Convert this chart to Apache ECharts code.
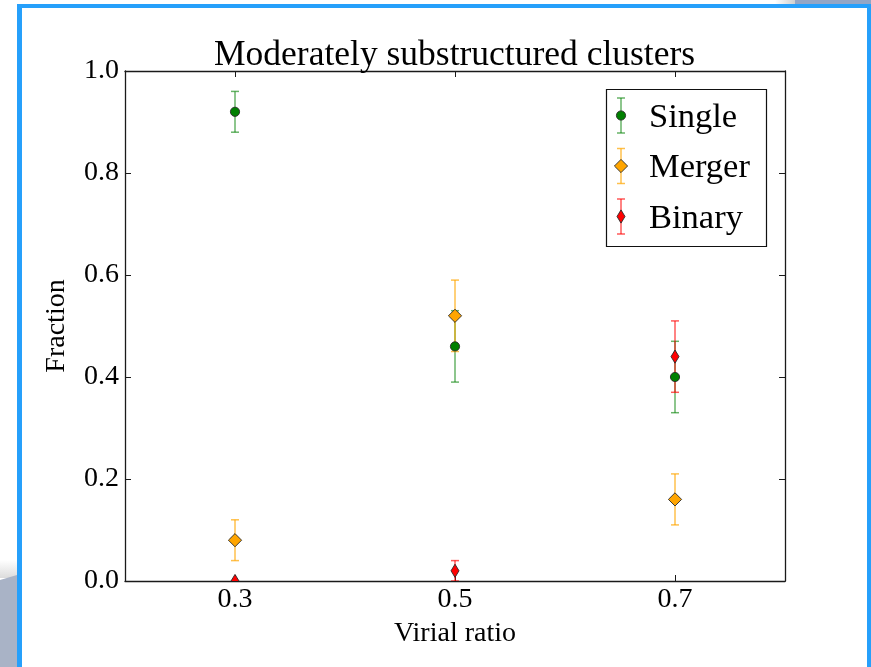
<!DOCTYPE html>
<html>
<head>
<meta charset="utf-8">
<script src="https://cdn.jsdelivr.net/npm/echarts@6/dist/echarts.min.js"></script>
<style>
html,body{margin:0;padding:0;background:#ffffff;}
#chart{width:871px;height:667px;}
</style>
</head>
<body>
<div id="chart"></div>
<script>
// ---- data ----
const titleText = 'Moderately substructured clusters';
const xName = 'Virial ratio';
const yName = 'Fraction';
const virialRatio = [0.3, 0.5, 0.7];
const xTickValues = [0.3, 0.5, 0.7];
const yTickValues = [0.0, 0.2, 0.4, 0.6, 0.8, 1.0];
const seriesNames = ['Single', 'Merger', 'Binary'];
const singleFrac = [0.92, 0.46, 0.40];
const singleErr  = [0.04, 0.07, 0.07];
const mergerFrac = [0.08, 0.52, 0.16];
const mergerErr  = [0.04, 0.07, 0.05];
const binaryFrac = [0.00, 0.02, 0.44];
const binaryErr  = [0.00, 0.02, 0.07];

// ---- styling ----
const FONT = 'Liberation Serif';
const markerColors = ['#008000', '#ffa500', '#ff0000'];
const barColors = ['rgba(0,128,0,0.6)', 'rgba(255,165,0,0.7)', 'rgba(255,0,0,0.65)'];
const markerKinds = ['circle', 'diamond', 'thindiamond'];
const EDGE = '#2a2a2a';

const fracs = [singleFrac, mergerFrac, binaryFrac];
const errs = [singleErr, mergerErr, binaryErr];

function markerShape(kind, cx, cy, color, z) {
  const style = { fill: color, stroke: EDGE, lineWidth: 0.9 };
  let el;
  if (kind === 'circle') {
    el = { type: 'circle', shape: { cx: cx, cy: cy, r: 4.6 }, style: style };
  } else {
    const hw = kind === 'diamond' ? 6.6 : 4.0;
    const hh = 6.6;
    el = { type: 'polygon', shape: { points: [[cx, cy - hh], [cx + hw, cy], [cx, cy + hh], [cx - hw, cy]] }, style: style };
  }
  if (z != null) el.z = z;
  return el;
}

function errBarShapes(xTop, yTop, xBot, yBot, color, z) {
  const cw = 4;
  const st = { stroke: color, lineWidth: 1.5 };
  const els = [
    { type: 'line', shape: { x1: xTop, y1: yTop, x2: xBot, y2: yBot }, style: st },
    { type: 'line', shape: { x1: xTop - cw, y1: yTop, x2: xTop + cw, y2: yTop }, style: st },
    { type: 'line', shape: { x1: xBot - cw, y1: yBot, x2: xBot + cw, y2: yBot }, style: st }
  ];
  if (z != null) els.forEach(function (e) { e.z = z; });
  return els;
}

const errSeries = seriesNames.map(function (name, si) {
  return {
    type: 'custom',
    name: name,
    clip: true,
    data: virialRatio.map(function (x, i) { return [x, fracs[si][i], errs[si][i]]; }),
    renderItem: function (params, api) {
      const x = api.value(0), y = api.value(1), e = api.value(2);
      if (!(e > 0)) return { type: 'group', children: [] };
      const t = api.coord([x, y + e]);
      const b = api.coord([x, y - e]);
      return { type: 'group', children: errBarShapes(t[0], t[1], b[0], b[1], barColors[si]) };
    }
  };
});

const markerSeries = seriesNames.map(function (name, si) {
  return {
    type: 'custom',
    name: name,
    clip: true,
    data: virialRatio.map(function (x, i) { return [x, fracs[si][i]]; }),
    renderItem: function (params, api) {
      const p = api.coord([api.value(0), api.value(1)]);
      return markerShape(markerKinds[si], p[0], p[1], markerColors[si]);
    }
  };
});

// ---- legend (drawn as graphic) ----
const LEG = { x: 606.5, y: 89.5, w: 160, h: 157, iconX: 621, textX: 649, firstY: 115.5, gap: 50.5, barHalf: 17.5, textDy: 2 };
const legendGraphics = [
  { type: 'rect', shape: { x: LEG.x, y: LEG.y, width: LEG.w, height: LEG.h }, style: { fill: '#ffffff', stroke: '#111', lineWidth: 1.2 }, z: 10 }
];
seriesNames.forEach(function (name, si) {
  const cy = LEG.firstY + si * LEG.gap;
  errBarShapes(LEG.iconX, cy - LEG.barHalf, LEG.iconX, cy + LEG.barHalf, barColors[si], 11).forEach(function (e) { legendGraphics.push(e); });
  legendGraphics.push(markerShape(markerKinds[si], LEG.iconX, cy, markerColors[si], 12));
  legendGraphics.push({ type: 'text', z: 12, x: LEG.textX, y: cy + LEG.textDy, style: { text: name, fontFamily: FONT, fontSize: 34.5, fill: '#000', align: 'left', verticalAlign: 'middle' } });
});

// ---- slide decoration (background frame) ----
const decoGraphics = [
  { type: 'polygon', shape: { points: [[0, 580], [17, 575], [17, 667], [0, 667]] }, style: { fill: '#a9b3c6' }, z: -5 },
  { type: 'rect', shape: { x: 0, y: 560, width: 17, height: 18 }, style: { fill: new echarts.graphic.LinearGradient(0, 0, 0, 1, [{ offset: 0, color: '#ffffff' }, { offset: 1, color: '#dcdcdc' }]) }, z: -6 },
  { type: 'rect', shape: { x: 795, y: 0, width: 76, height: 5 }, style: { fill: '#93a6c6' }, z: -5 },
  { type: 'rect', shape: { x: 775, y: 0, width: 20, height: 5 }, style: { fill: new echarts.graphic.LinearGradient(0, 0, 1, 0, [{ offset: 0, color: '#ffffff' }, { offset: 1, color: '#cfcfcf' }]) }, z: -5 },
  { type: 'rect', shape: { x: 17, y: 4, width: 5, height: 663 }, style: { fill: '#26a0fb' }, z: -4 },
  { type: 'rect', shape: { x: 17, y: 4, width: 854, height: 4 }, style: { fill: '#26a0fb' }, z: -4 },
  { type: 'rect', shape: { x: 867, y: 4, width: 4, height: 663 }, style: { fill: '#26a0fb' }, z: -4 }
];

const axisLineStyle = { color: '#1a1a1a', width: 1.3 };
const tickStyle = { color: '#1a1a1a', width: 1 };

const option = {
  animation: false,
  backgroundColor: 'transparent',
  title: {
    text: titleText,
    left: 214,
    top: 38,
    padding: 0,
    textStyle: { fontFamily: FONT, fontSize: 35.5, fontWeight: 'normal', color: '#000' }
  },
  grid: { left: 125, right: 86, top: 71, bottom: 86, outerBoundsMode: 'none', containLabel: false },
  xAxis: [
    {
      type: 'value', position: 'bottom', min: 0.2, max: 0.8,
      name: xName, nameLocation: 'middle', nameGap: 39,
      nameTextStyle: { fontFamily: FONT, fontSize: 28, color: '#000' },
      axisLine: { show: true, onZero: false, lineStyle: axisLineStyle },
      axisTick: { show: true, inside: true, length: 6, customValues: xTickValues, lineStyle: tickStyle },
      axisLabel: { show: true, margin: 5, customValues: xTickValues, fontFamily: FONT, fontSize: 28, color: '#000', formatter: function (v) { return v.toFixed(1); } },
      splitLine: { show: false }
    },
    {
      type: 'value', position: 'top', min: 0.2, max: 0.8,
      axisLine: { show: true, onZero: false, lineStyle: axisLineStyle },
      axisTick: { show: true, inside: true, length: 6, customValues: xTickValues, lineStyle: tickStyle },
      axisLabel: { show: false },
      splitLine: { show: false }
    }
  ],
  yAxis: [
    {
      type: 'value', position: 'left', min: 0, max: 1.0, interval: 0.2,
      name: yName, nameLocation: 'middle', nameGap: 54, nameRotate: 90,
      nameTextStyle: { fontFamily: FONT, fontSize: 28, color: '#000' },
      axisLine: { show: true, onZero: false, lineStyle: axisLineStyle },
      axisTick: { show: true, inside: true, length: 6, customValues: yTickValues, lineStyle: tickStyle },
      axisLabel: { show: true, margin: 6, customValues: yTickValues, fontFamily: FONT, fontSize: 28, color: '#000', formatter: function (v) { return v.toFixed(1); } },
      splitLine: { show: false }
    },
    {
      type: 'value', position: 'right', min: 0, max: 1.0, interval: 0.2,
      axisLine: { show: true, onZero: false, lineStyle: axisLineStyle },
      axisTick: { show: true, inside: true, length: 6, customValues: yTickValues, lineStyle: tickStyle },
      axisLabel: { show: false },
      splitLine: { show: false }
    }
  ],
  graphic: decoGraphics.concat(legendGraphics),
  series: errSeries.concat(markerSeries)
};

const chart = echarts.init(document.getElementById('chart'), null, { renderer: 'canvas' });
chart.setOption(option);
</script>
</body>
</html>
